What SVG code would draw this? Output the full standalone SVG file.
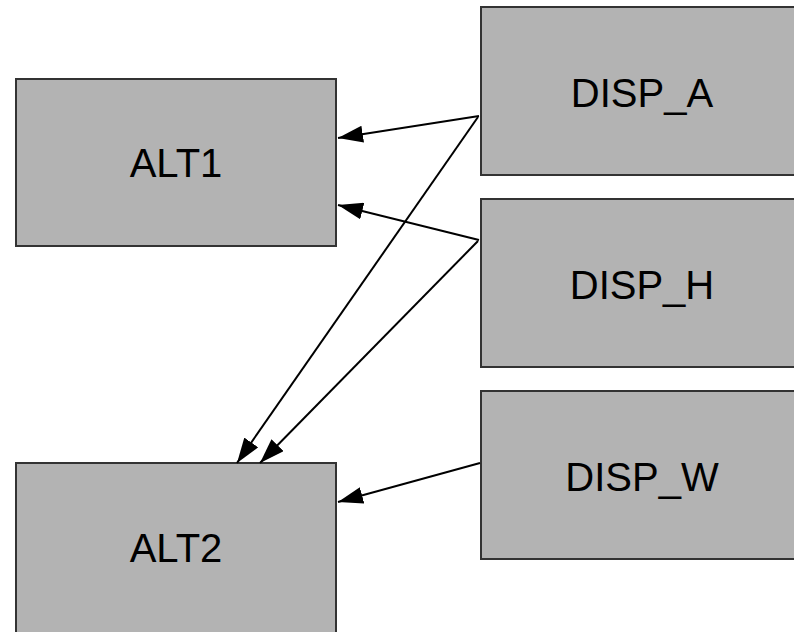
<svg xmlns="http://www.w3.org/2000/svg" width="794" height="632" viewBox="0 0 794 632">
  <style>
    .box { fill: #b3b3b3; stroke: #333333; stroke-width: 2; }
    .label { font-family: "Liberation Sans", Arial, sans-serif; font-size: 40px; fill: #000000; text-anchor: middle; }
    .edge { fill: none; stroke: #000000; stroke-width: 2; marker-end: url(#arrow); }
  </style>
  <defs>
    <marker id="arrow" viewBox="0 0 25 17" refX="25" refY="8.5" markerWidth="25" markerHeight="17" markerUnits="userSpaceOnUse" orient="auto">
      <path d="M0,0 L25,8.5 L0,17 Z" fill="#000000"/>
    </marker>
  </defs>
  <rect width="794" height="632" fill="#ffffff"/>

  <g id="ALT1">
    <rect class="box" x="16" y="79" width="320" height="167"/>
    <text class="label" x="176" y="177">ALT1</text>
  </g>
  <g id="ALT2">
    <rect class="box" x="16" y="463" width="320" height="170"/>
    <text class="label" x="176" y="562">ALT2</text>
  </g>
  <g id="DISP_A">
    <rect class="box" x="481" y="7" width="324" height="168"/>
    <text class="label" x="642" y="107">DISP_A</text>
  </g>
  <g id="DISP_H">
    <rect class="box" x="481" y="199" width="324" height="168"/>
    <text class="label" x="642" y="299">DISP_H</text>
  </g>
  <g id="DISP_W">
    <rect class="box" x="481" y="391" width="324" height="168"/>
    <text class="label" x="642" y="491">DISP_W</text>
  </g>

  <g id="connectors">
    <line class="edge" x1="479" y1="116" x2="338" y2="138"/>
    <line class="edge" x1="479" y1="240" x2="338" y2="205"/>
    <line class="edge" x1="478" y1="117" x2="237" y2="463"/>
    <line class="edge" x1="478" y1="241" x2="260" y2="463"/>
    <line class="edge" x1="480" y1="463" x2="338" y2="502"/>
  </g>
</svg>
